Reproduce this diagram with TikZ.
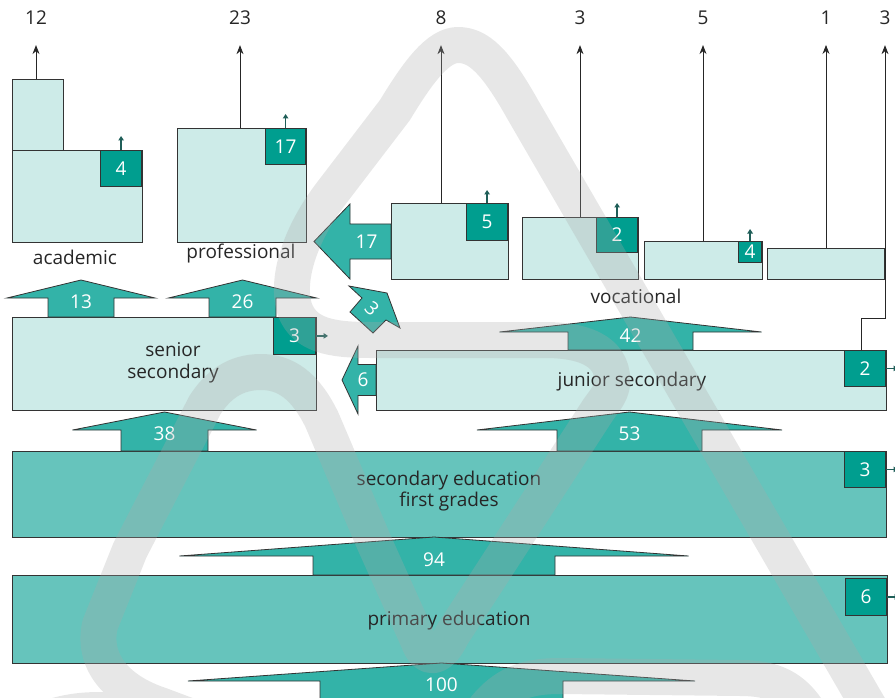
\documentclass[tikz,border=0pt]{standalone}
\usepackage{fontspec}
\setmainfont{Open Sans}
\usetikzlibrary{arrows.meta}

\definecolor{boxlight}{HTML}{CDEBE8}
\definecolor{boxmid}{HTML}{66C4BC}
\definecolor{flowteal}{HTML}{33B3A8}
\definecolor{darkteal}{HTML}{009E8F}
\definecolor{edge}{HTML}{333333}
\definecolor{inktext}{HTML}{262626}
\definecolor{wmgrey}{HTML}{AAAAAA}

\tikzset{
  basefont/.style={font=\fontsize{19}{21.5}\selectfont},
  lightbox/.style={draw=edge, fill=boxlight, line width=0.8pt, inner sep=0pt,
                   anchor=north west},
  midbox/.style={lightbox, fill=boxmid},
  darkbox/.style={draw=edge, fill=darkteal, line width=0.8pt, inner sep=0pt,
                  anchor=north east, basefont, text=white},
  boxtext/.style={basefont, text=inktext, align=center, inner sep=0pt},
  toplabel/.style={basefont, text=inktext, inner sep=0pt},
  flowshape/.style={draw=edge, fill=flowteal, line width=0.8pt, line join=miter},
  flowlabel/.style={basefont, text=white, inner sep=0pt},
  topflow/.style={draw=black!85, line width=0.8pt,
                  -{Stealth[length=9pt,width=7pt]}, shorten >=20pt},
  tinyflow/.style={draw=edge!60!darkteal, line width=1.5pt,
                   -{Triangle[length=4.5pt,width=5.5pt]}},
  watermark/.style={draw=wmgrey, draw opacity=0.28, line width=36pt,
                    line cap=butt, line join=round}
}

% block arrow pointing up: name, text, centre x, foot y, head base y, apex y,
% half shaft width, half head width
\newcommand\flowup[8]{%
  \filldraw[flowshape] (#3-#7,#4) -- (#3-#7,#5) -- (#3-#8,#5) -- (#3,#6)
    -- (#3+#8,#5) -- (#3+#7,#5) -- (#3+#7,#4) -- cycle;
  \node[flowlabel] (#1) at (#3,#5+4) {#2};}

% block arrow pointing left: name, text, tail x, head base x, tip x, centre y,
% half shaft height, half head height
\newcommand\flowleft[8]{%
  \filldraw[flowshape] (#3,#6-#7) -- (#4,#6-#7) -- (#4,#6-#8) -- (#5,#6)
    -- (#4,#6+#8) -- (#4,#6+#7) -- (#3,#6+#7) -- cycle;
  \node[flowlabel] (#1) at ({(#3+#4)/2-4},#6) {#2};}

\begin{document}
\begin{tikzpicture}[x=1pt,y=-1pt]
\useasboundingbox (0,0) rectangle (895,698);

% ---------- school types ----------
\node[lightbox, minimum width=51pt, minimum height=71pt] (acadtop) at (12,79) {};
\node[lightbox, minimum width=130pt, minimum height=92pt] (acad) at (12,150) {};
\node[darkbox, minimum width=41pt, minimum height=36pt] (d4) at (142,150) {4};

\node[lightbox, minimum width=129pt, minimum height=114pt] (prof) at (177,128) {};
\node[darkbox, minimum width=40pt, minimum height=36pt] (d17) at (306,128) {17};

\node[lightbox, minimum width=117pt, minimum height=76pt] (voc1) at (391,203) {};
\node[darkbox, minimum width=41pt, minimum height=37pt] (d5) at (508,203) {5};
\node[lightbox, minimum width=116pt, minimum height=62pt] (voc2) at (522,217) {};
\node[darkbox, minimum width=41pt, minimum height=35pt] (d2v) at (638,217) {2};
\node[lightbox, minimum width=118pt, minimum height=38pt] (voc3) at (644,241) {};
\node[darkbox, minimum width=23pt, minimum height=21pt] (d4v) at (762,241) {4};
\node[lightbox, minimum width=117pt, minimum height=31pt] (voc4) at (767,248) {};

\node[lightbox, minimum width=304pt, minimum height=93pt] (senior) at (12,317) {};
\node[darkbox, minimum width=42pt, minimum height=37pt] (d3s) at (316,317) {3};
\node[lightbox, minimum width=510pt, minimum height=60pt] (junior) at (376,350) {};
\node[darkbox, minimum width=41pt, minimum height=36pt] (d2j) at (886,350) {2};

\node[midbox, minimum width=874pt, minimum height=86pt] (secfirst) at (12,451) {};
\node[darkbox, minimum width=41pt, minimum height=36pt] (d3f) at (886,451) {3};
\node[midbox, minimum width=875pt, minimum height=88pt] (primary) at (12,575) {};
\node[darkbox, minimum width=41pt, minimum height=37pt] (d6) at (887,578) {6};

% ---------- box texts ----------
\node[boxtext] (tacad) at (75,257) {academic};
\node[boxtext] (tprof) at (241,254) {professional};
\node[boxtext] (tvoc) at (636,296) {vocational};
\node[boxtext] (tsenior) at (173,363) {senior\\secondary};
\node[boxtext] (tjunior) at (632,382) {junior secondary};
\node[boxtext] (tsecfirst) at (449,491) {secondary education\\first grades};
\node[boxtext] (tprimary) at (449,621) {primary education};

% ---------- flows between school types ----------
\flowup{f13}{13}{81}{317}{298}{280}{33}{74}
\flowup{f26}{26}{242.5}{317}{298}{280}{33.5}{74}
\flowup{f42}{42}{630.5}{350}{332}{317}{62.5}{131}
\flowup{f38}{38}{164.5}{451}{430}{412}{43.5}{92}
\flowup{f53}{53}{629.5}{451}{430}{412}{72.5}{152.5}
\flowup{f94}{94}{434}{575}{556}{537}{121}{254.5}
\flowup{f100}{100}{441.5}{702}{681}{663}{121.5}{253.5}

\flowleft{f17}{17}{391}{350}{314}{241.5}{17.5}{37.5}
\flowleft{f6}{6}{376}{358}{342}{380}{15.5}{34}

% slanted flow from senior secondary towards the vocational side
\filldraw[flowshape] (350,312) -- (362,298) -- (349,286) -- (387,293)
  -- (400,328) -- (386,320) -- (373,333) -- cycle;
\node[flowlabel, rotate=-45] (f3) at (372,309) {3};

% ---------- school leavers ----------
\node[toplabel] (t12) at (36,18) {12};
\node[toplabel] (t23) at (240,18) {23};
\node[toplabel] (t8) at (441,18) {8};
\node[toplabel] (t3a) at (580,18) {3};
\node[toplabel] (t5) at (703,18) {5};
\node[toplabel] (t1) at (826,18) {1};
\node[toplabel] (t3b) at (885,18) {3};

\draw[topflow] (t12 |- acadtop.north) -- (t12.south);
\draw[topflow] (t23 |- prof.north) -- (t23.south);
\draw[topflow] (t8 |- voc1.north) -- (t8.south);
\draw[topflow] (t3a |- voc2.north) -- (t3a.south);
\draw[topflow] (t5 |- voc3.north) -- (t5.south);
\draw[topflow] (t1 |- voc4.north) -- (t1.south);
\coordinate (elbow) at (885,318);
\draw[topflow] ([xshift=-4pt]d2j.north) |- (elbow) -- (t3b.south);

% small outflows from the dark boxes
\draw[tinyflow] (d4.north) -- ++(0,-14);
\draw[tinyflow] (d17.north) -- ++(0,-14);
\draw[tinyflow] (d5.north) -- ++(0,-13);
\draw[tinyflow] (d2v.north) -- ++(0,-14);
\draw[tinyflow] (d4v.north) -- ++(0,-12);
\draw[tinyflow] (d3s.east) -- ++(12,0);
\draw[tinyflow] (d2j.east) -- ++(12,0);
\draw[tinyflow] (d3f.east) -- ++(12,0);
\draw[tinyflow] (d6.east) -- ++(12,0);

% ---------- background emblem ribbon ----------
\draw[watermark]
  (909,775) -- (864,698) -- (523,110)
  .. controls (495,60) and (478,45) .. (458,45)
  .. controls (438,45) and (418,72) .. (395,110)
  -- (330,195)
  .. controls (300,235) and (285,280) .. (295,310)
  .. controls (305,335) and (330,340) .. (370,340)
  -- (545,340)
  .. controls (590,340) and (615,355) .. (612,385)
  .. controls (610,395) and (605,400) .. (598,410)
  -- (452,635)
  .. controls (440,660) and (426,662) .. (418,640)
  -- (373,540) -- (322,420)
  .. controls (305,385) and (285,372) .. (261,372)
  .. controls (235,372) and (218,385) .. (205,405)
  -- (130,550) -- (100,625)
  .. controls (92,660) and (115,690) .. (160,705)
  -- (240,735)
  (10,740) .. controls (40,712) and (100,700) .. (150,720)
  (462,745) .. controls (490,690) and (515,676) .. (560,676)
  -- (740,678) .. controls (785,678) and (805,695) .. (825,745);
\end{tikzpicture}
\end{document}
